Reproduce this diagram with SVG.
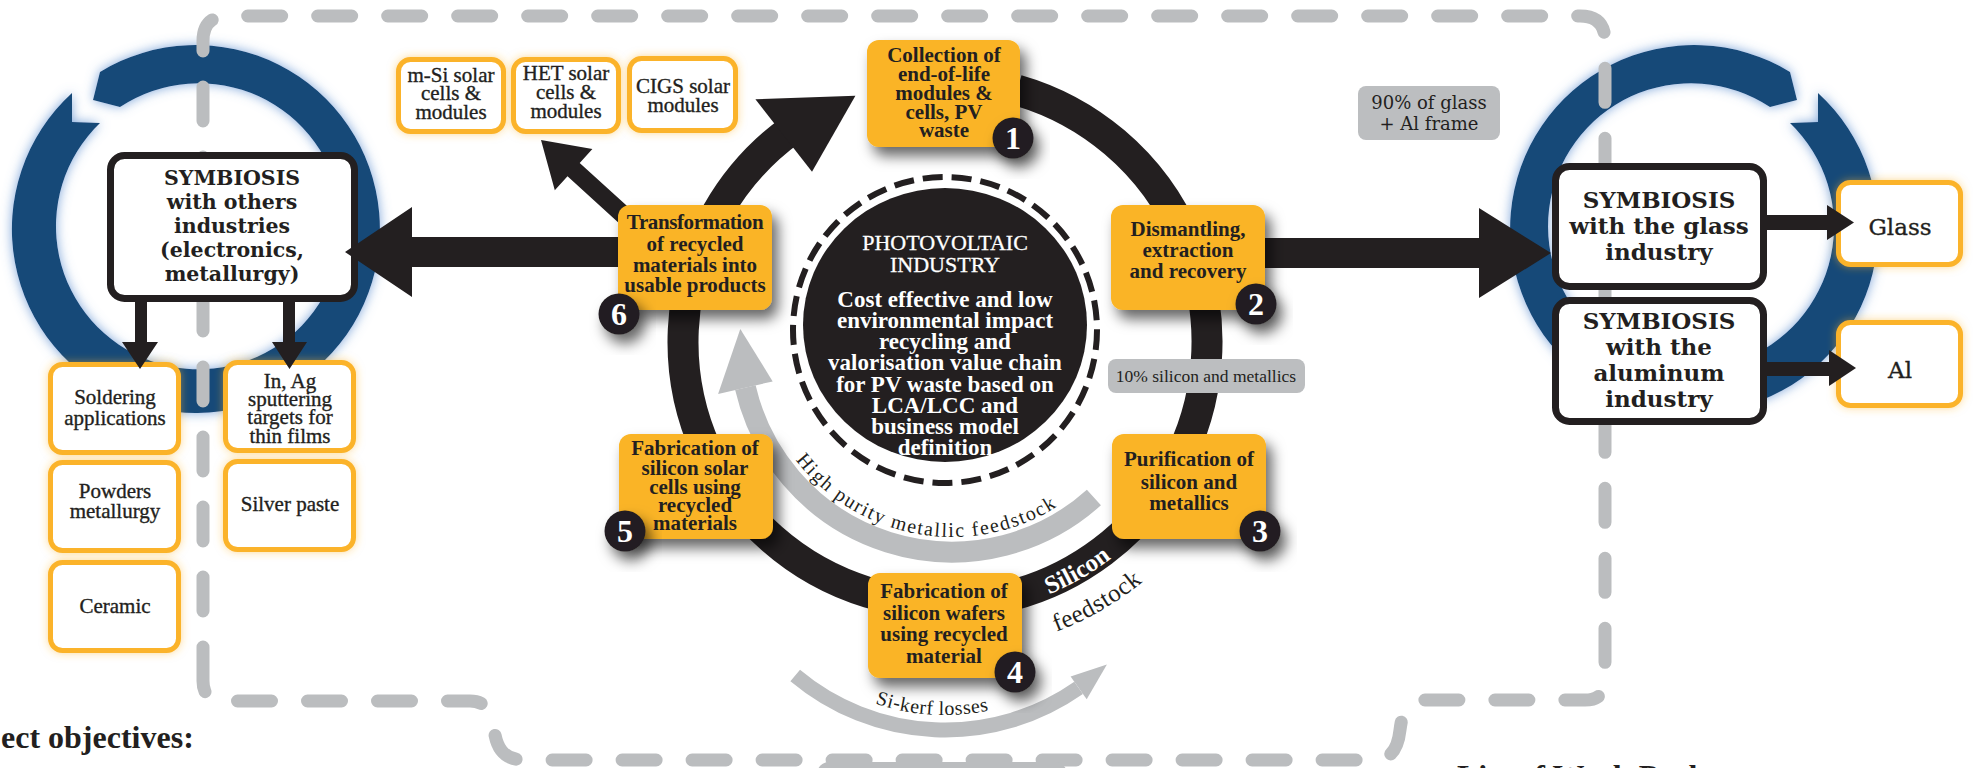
<svg xmlns="http://www.w3.org/2000/svg" width="1975" height="768" viewBox="0 0 1975 768">
<defs>
  <filter id="glowB" x="-20%" y="-20%" width="140%" height="140%"><feDropShadow dx="0" dy="0" stdDeviation="6" flood-color="#6f9bd6" flood-opacity="0.9"/></filter>
  <filter id="glowO" x="-20%" y="-20%" width="140%" height="140%"><feDropShadow dx="0" dy="0" stdDeviation="4" flood-color="#fbb32b" flood-opacity="0.5"/></filter>
  <filter id="sh" x="-30%" y="-30%" width="170%" height="180%"><feDropShadow dx="6" dy="9" stdDeviation="7" flood-color="#000" flood-opacity="0.6"/></filter>
  <path id="tpHigh" d="M 766.9,407.4 A 197 197 0 0 0 1102.9,466.6"/>
  <path id="tpKerf" d="M 794.9,655.1 A 218 218 0 0 0 1074.7,672.3"/>
  <path id="tpSil" d="M 968.8,614.0 A 273 273 0 0 0 1168.6,498.6"/>
  <path id="tpFeed" d="M 975.0,650.8 A 311 311 0 0 0 1199.8,520.4"/>
  <style>
    .ring{fill:#124878;filter:url(#glowB)}
    .dash{fill:none;stroke:#bbbdbf;stroke-width:13;stroke-linecap:round;stroke-dasharray:34 36}
    .ob{fill:#fab425;filter:url(#sh)}
    .st{font-family:"Liberation Serif",serif;font-weight:bold;font-size:21px;fill:#231f20;text-anchor:middle}
    .pb{fill:#fff;stroke:#fbb32b;stroke-width:5;filter:url(#glowO)}
    .pt{font-family:"Liberation Serif",serif;font-size:21px;fill:#231f20;stroke:#231f20;stroke-width:0.35;text-anchor:middle}
    .sb{fill:#fff;stroke:#231f20;stroke-width:7}
    .sy{font-family:"DejaVu Serif",serif;font-weight:bold;font-size:23px;fill:#231f20;text-anchor:middle}
    .nc{fill:#231f20;filter:url(#sh)}
    .nt{font-family:"Liberation Serif",serif;font-weight:bold;font-size:32px;fill:#fff;text-anchor:middle}
    .ct{font-family:"Liberation Serif",serif;font-size:22px;fill:#fff;stroke:#fff;stroke-width:0.3;text-anchor:middle}
    .cb{font-family:"Liberation Serif",serif;font-weight:bold;font-size:23px;fill:#fff;text-anchor:middle}
    .gl{fill:#bcbec0}
    .gt{font-family:"Liberation Serif",serif;fill:#231f20;text-anchor:middle}
    .blk{fill:#231f20}
    .arc{font-family:"Liberation Serif",serif;fill:#231f20}
  </style>
</defs>

<rect width="1975" height="768" fill="#fff"/>

<g id="background">
  <path class="ring" d="M 100,72 A 184 184 0 1 1 72,93 L 72,122 L 100,123 A 143 143 0 1 0 120,107 L 93,100 Z"/>
  <path class="ring" d="M 1790,72 A 184 184 0 1 0 1818,93 L 1818,122 L 1790,123 A 143 143 0 1 1 1770,107 L 1797,100 Z"/>
  <path class="dash" d="M 203,681 L 203,41 Q 203,16 228,16 L 1580,16 Q 1605,16 1605,41 L 1605,680 Q 1605,700 1585,700 L 1425,700 C 1405,700 1402,715 1400,730 C 1398,748 1392,760 1372,760 L 525,760 C 505,760 498,750 495,735 C 492,718 490,701 470,701 L 223,701 Q 203,701 203,681 Z"/>
  <rect x="817" y="762" width="250" height="40" rx="12" fill="#bbbdbf"/>
</g>

<g id="node-center">
  <ellipse cx="945" cy="325" rx="142" ry="137" fill="#231f20"/>
  <ellipse cx="945" cy="330" rx="152" ry="153" fill="none" stroke="#231f20" stroke-width="6" stroke-dasharray="20 9"/>
  <text class="ct" x="945" y="250">PHOTOVOLTAIC</text>
  <text class="ct" x="945" y="272">INDUSTRY</text>
  <text class="cb" x="945" y="307">Cost effective and low</text>
  <text class="cb" x="945" y="328">environmental impact</text>
  <text class="cb" x="945" y="349">recycling and</text>
  <text class="cb" x="945" y="370">valorisation value chain</text>
  <text class="cb" x="945" y="392">for PV waste based on</text>
  <text class="cb" x="945" y="413">LCA/LCC and</text>
  <text class="cb" x="945" y="434">business model</text>
  <text class="cb" x="945" y="455">definition</text>
</g>

<g id="node-symb-others">
  <rect class="sb" x="110.5" y="155.5" width="244" height="143" rx="14"/>
  <text class="sy" style="font-size:20.5px" x="232" y="185">SYMBIOSIS</text>
  <text class="sy" style="font-size:20.5px" x="232" y="209">with others</text>
  <text class="sy" style="font-size:20.5px" x="232" y="233">industries</text>
  <text class="sy" style="font-size:20.5px" x="232" y="257">(electronics,</text>
  <text class="sy" style="font-size:20.5px" x="232" y="281">metallurgy)</text>
</g>
<g id="node-symb-glass">
  <rect class="sb" x="1555.5" y="166.5" width="208" height="120" rx="14"/>
  <text class="sy" x="1659" y="208">SYMBIOSIS</text>
  <text class="sy" x="1659" y="234">with the glass</text>
  <text class="sy" x="1659" y="260">industry</text>
</g>
<g id="node-symb-aluminum">
  <rect class="sb" x="1555.5" y="300.5" width="208" height="121" rx="14"/>
  <text class="sy" x="1659" y="329">SYMBIOSIS</text>
  <text class="sy" x="1659" y="355">with the</text>
  <text class="sy" x="1659" y="381">aluminum</text>
  <text class="sy" x="1659" y="407">industry</text>
</g>

<g id="node-msi">
  <rect class="pb" x="398.5" y="59.5" width="105" height="72" rx="12"/>
  <text class="pt" x="451" y="82">m-Si solar</text>
  <text class="pt" x="451" y="100">cells &amp;</text>
  <text class="pt" x="451" y="119">modules</text>
</g>
<g id="node-het">
  <rect class="pb" x="513.5" y="59.5" width="105" height="72" rx="12"/>
  <text class="pt" x="566" y="80">HET solar</text>
  <text class="pt" x="566" y="99">cells &amp;</text>
  <text class="pt" x="566" y="118">modules</text>
</g>
<g id="node-cigs">
  <rect class="pb" x="629.5" y="58.5" width="106" height="72" rx="12"/>
  <text class="pt" x="683" y="93">CIGS solar</text>
  <text class="pt" x="683" y="112">modules</text>
</g>
<g id="node-soldering">
  <rect class="pb" x="50.5" y="364.5" width="128" height="88" rx="12"/>
  <text class="pt" x="115" y="404">Soldering</text>
  <text class="pt" x="115" y="425">applications</text>
</g>
<g id="node-powders">
  <rect class="pb" x="50.5" y="462.5" width="128" height="88" rx="12"/>
  <text class="pt" x="115" y="498">Powders</text>
  <text class="pt" x="115" y="518">metallurgy</text>
</g>
<g id="node-ceramic">
  <rect class="pb" x="50.5" y="562.5" width="128" height="88" rx="12"/>
  <text class="pt" x="115" y="613">Ceramic</text>
</g>
<g id="node-inag">
  <rect class="pb" x="225.5" y="362.5" width="128" height="88" rx="12"/>
  <text class="pt" x="290" y="388">In, Ag</text>
  <text class="pt" x="290" y="406">sputtering</text>
  <text class="pt" x="290" y="424">targets for</text>
  <text class="pt" x="290" y="443">thin films</text>
</g>
<g id="node-silver">
  <rect class="pb" x="225.5" y="461.5" width="128" height="88" rx="12"/>
  <text class="pt" x="290" y="511">Silver paste</text>
</g>
<g id="node-glass">
  <rect class="pb" x="1838.5" y="182.5" width="122" height="82" rx="12"/>
  <text class="pt" style="font-family:'DejaVu Serif',serif;font-size:23px" x="1900" y="235">Glass</text>
</g>
<g id="node-al">
  <rect class="pb" x="1838.5" y="322.5" width="122" height="83" rx="12"/>
  <text class="pt" style="font-family:'DejaVu Serif',serif;font-size:23px" x="1900" y="378">Al</text>
</g>

<g id="connectors">
  <path d="M 1017.2,90.1 A 262 262 0 1 1 791,130" fill="none" stroke="#231f20" stroke-width="31"/>
  <polygon class="blk" points="755.4,99.3 855.4,95.8 812,171.8"/>
  <path d="M 1093.9,497.5 A 212 212 0 0 1 745.4,387.7" fill="none" stroke="#bbbdbf" stroke-width="21"/>
  <polygon points="718.1,394 740.3,328.9 772.7,381.4" fill="#bbbdbf"/>
  <path d="M 795.2,675.5 A 233 233 0 0 0 1078.6,687.9" fill="none" stroke="#bbbdbf" stroke-width="15"/>
  <polygon points="1086.7,699.3 1106.9,664.6 1070.6,676.4" fill="#bbbdbf"/>
  <text class="arc" style="font-size:20px;letter-spacing:1.6px"><textPath href="#tpHigh" startOffset="50%" text-anchor="middle">High purity metallic feedstock</textPath></text>
  <text class="arc" style="font-size:20px;letter-spacing:0.5px"><textPath href="#tpKerf" startOffset="50%" text-anchor="middle">Si-kerf losses</textPath></text>
  <text class="arc" style="font-size:25px;font-weight:bold;fill:#fff"><textPath href="#tpSil" startOffset="50%" text-anchor="middle">Silicon</textPath></text>
  <text class="arc" style="font-size:25px;letter-spacing:0.5px"><textPath href="#tpFeed" startOffset="50%" text-anchor="middle">feedstock</textPath></text>
  <polygon class="blk" points="700,237 412,237 412,207 345,252 412,297 412,267 700,267"/>
  <polygon class="blk" points="1190,238 1479,238 1479,208 1551,253 1479,298 1479,268 1190,268"/>
  <polygon class="blk" points="646.1,223.3 579.7,163 592.4,148.9 541,140 554.8,190.3 567.5,176.3 633.9,236.7"/>
  <polygon class="blk" points="135,300 147,300 147,342 158,342 140,369 122,342 135,342"/>
  <polygon class="blk" points="283,300 295,300 295,342 307,342 289.5,369 272,342 283,342"/>
  <polygon class="blk" points="1764,215 1827,215 1827,205 1854,222.5 1827,240 1827,230 1764,230"/>
  <polygon class="blk" points="1764,362 1829,362 1829,350 1856,368 1829,386 1829,376 1764,376"/>
</g>

<g id="node-step1">
  <rect class="ob" x="867" y="40" width="153" height="107" rx="12"/>
  <text class="st" x="944" y="62">Collection of</text>
  <text class="st" x="944" y="81">end-of-life</text>
  <text class="st" x="944" y="100">modules &amp;</text>
  <text class="st" x="944" y="119">cells, PV</text>
  <text class="st" x="944" y="137">waste</text>
  <circle class="nc" cx="1013" cy="138" r="20.5"/>
  <text class="nt" x="1013" y="149">1</text>
</g>
<g id="node-step2">
  <rect class="ob" x="1111" y="205" width="154" height="105" rx="12"/>
  <text class="st" x="1188" y="236">Dismantling,</text>
  <text class="st" x="1188" y="257">extraction</text>
  <text class="st" x="1188" y="278">and recovery</text>
  <circle class="nc" cx="1256" cy="304" r="20.5"/>
  <text class="nt" x="1256" y="315">2</text>
</g>
<g id="node-step3">
  <rect class="ob" x="1112" y="434" width="154" height="105" rx="12"/>
  <text class="st" x="1189" y="466">Purification of</text>
  <text class="st" x="1189" y="489">silicon and</text>
  <text class="st" x="1189" y="510">metallics</text>
  <circle class="nc" cx="1260" cy="531" r="20.5"/>
  <text class="nt" x="1260" y="542">3</text>
</g>
<g id="node-step4">
  <rect class="ob" x="868" y="573" width="154" height="105" rx="12"/>
  <text class="st" x="944" y="598">Fabrication of</text>
  <text class="st" x="944" y="620">silicon wafers</text>
  <text class="st" x="944" y="641">using recycled</text>
  <text class="st" x="944" y="663">material</text>
  <circle class="nc" cx="1015" cy="672" r="20.5"/>
  <text class="nt" x="1015" y="683">4</text>
</g>
<g id="node-step5">
  <rect class="ob" x="619" y="434" width="154" height="105" rx="12"/>
  <text class="st" x="695" y="455">Fabrication of</text>
  <text class="st" x="695" y="475">silicon solar</text>
  <text class="st" x="695" y="494">cells using</text>
  <text class="st" x="695" y="512">recycled</text>
  <text class="st" x="695" y="530">materials</text>
  <circle class="nc" cx="625" cy="531" r="20.5"/>
  <text class="nt" x="625" y="542">5</text>
</g>
<g id="node-step6">
  <rect class="ob" x="618" y="205" width="154" height="105" rx="12"/>
  <text class="st" x="695" y="229" style="letter-spacing:-0.4px">Transformation</text>
  <text class="st" x="695" y="251">of recycled</text>
  <text class="st" x="695" y="272">materials into</text>
  <text class="st" x="695" y="292">usable products</text>
  <circle class="nc" cx="619" cy="314" r="20.5"/>
  <text class="nt" x="619" y="325">6</text>
</g>

<g id="label-glass">
  <rect class="gl" x="1358" y="86" width="142" height="54" rx="8"/>
  <text class="gt" style="font-family:'DejaVu Serif',serif;font-size:18px" x="1429" y="109">90% of glass</text>
  <text class="gt" style="font-family:'DejaVu Serif',serif;font-size:18px" x="1429" y="130">+ Al frame</text>
</g>
<g id="label-silicon">
  <rect class="gl" x="1108" y="359" width="197" height="34" rx="8"/>
  <text class="gt" style="font-size:17.5px" x="1206" y="382">10% silicon and metallics</text>
</g>

<text x="1" y="748" style="font-family:'Liberation Serif',serif;font-weight:bold;font-size:32px;fill:#231f20">ect objectives:</text>
<text x="1457" y="787" style="font-family:'Liberation Serif',serif;font-weight:bold;font-size:32px;fill:#231f20">List of Work Packages</text>
</svg>
